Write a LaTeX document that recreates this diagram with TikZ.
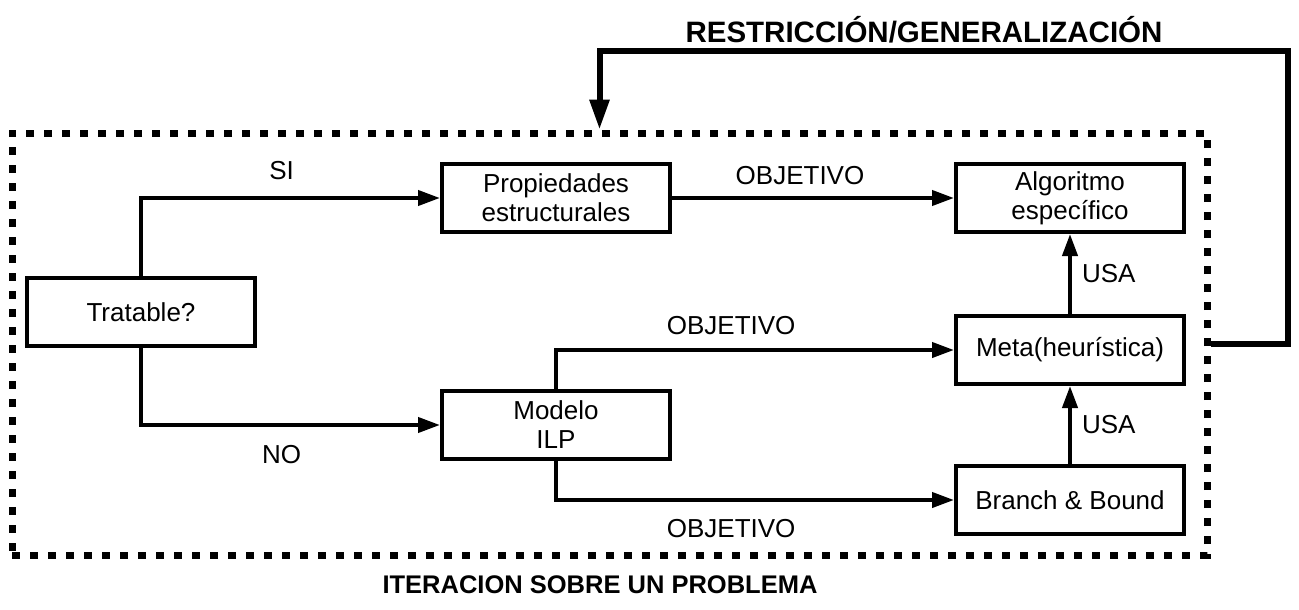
\documentclass[tikz,border=0pt]{standalone}
\usepackage{fontspec}
\setmainfont{Liberation Sans}
\usetikzlibrary{arrows.meta,positioning}

\begin{document}
\begin{tikzpicture}[x=1pt,y=-1pt,
    caja/.style={draw,line width=4pt,minimum width=228pt,minimum height=68pt,
      inner sep=0pt,align=center,font=\fontsize{26}{29}\selectfont},
    flecha/.style={line width=4pt,-{Triangle[length=22pt,width=15pt]}},
    etiqueta/.style={inner sep=0pt,font=\fontsize{26}{29}\selectfont},
    titulo/.style={inner sep=0pt,font=\fontsize{25.5}{30}\selectfont\bfseries}]
  \useasboundingbox (0,0) rectangle (1299,610);

  % marco punteado
  \node[draw,line width=7pt,dash pattern=on 8pt off 10pt,
    minimum width=1195pt,minimum height=422pt] (iter) at (609.5,344) {};
  \node[titulo] (titIter) at (600,585) {ITERACION SOBRE UN PROBLEMA};

  % cajas
  \node[caja] (trat) at (141,312) {Tratable?};
  \node[caja] (prop) at (556,198) {Propiedades\\estructurales};
  \node[caja] (algo) at (1070,198) {Algoritmo\\específico};
  \node[caja] (modelo) at (556,425) {Modelo\\ILP};
  \node[caja] (meta) at (1070,350) {Meta(heurística)};
  \node[caja] (bb) at (1070,500) {Branch \& Bound};

  % flechas
  \draw[flecha] (trat.north) |- (prop.west)
    node[etiqueta,pos=0.735,above=16pt] {SI};
  \draw[flecha] (trat.south) |- (modelo.west)
    node[etiqueta,pos=0.735,below=18pt] {NO};
  \draw[flecha] (prop) -- (algo)
    node[etiqueta,midway,above=11pt,xshift=-13pt] {OBJETIVO};
  \draw[flecha] (modelo.north) |- (meta.west)
    node[etiqueta,pos=0.72,above=13pt] {OBJETIVO};
  \draw[flecha] (modelo.south) |- (bb.west)
    node[etiqueta,pos=0.72,below=17pt] {OBJETIVO};
  \draw[flecha] (bb) -- (meta)
    node[etiqueta,midway,right=10pt] {USA};
  \draw[flecha] (meta) -- (algo)
    node[etiqueta,midway,right=10pt] {USA};

  % realimentacion
  \coordinate (giro) at (1288,51);
  \draw[line width=6pt,-{Triangle[length=30pt,width=19pt]}]
    (iter.east) -| (giro) -| ([xshift=-10pt]iter.north);
  \node[titulo,font=\fontsize{29.5}{34}\selectfont\bfseries] (titRestr) at (924,30)
    {RESTRICCIÓN/GENERALIZACIÓN};
\end{tikzpicture}
\end{document}
